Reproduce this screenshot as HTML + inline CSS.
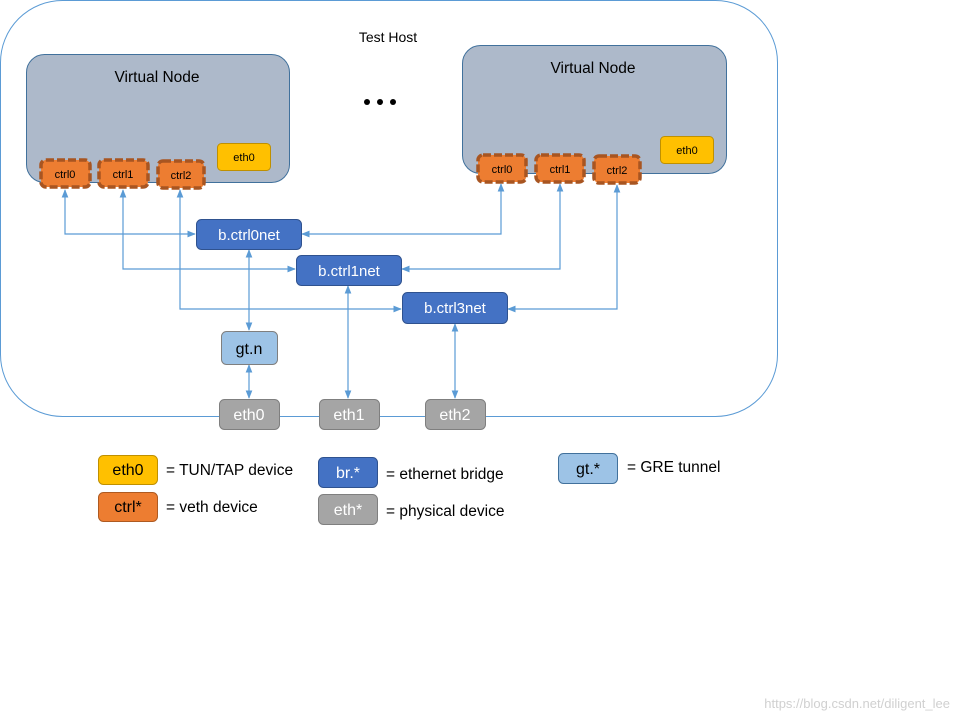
<!DOCTYPE html>
<html><head><meta charset="utf-8"><style>
html,body{margin:0;padding:0;background:#fff;width:960px;height:720px;overflow:hidden}
svg{display:block;font-family:"Liberation Sans",sans-serif}
</style></head><body>
<svg width="960" height="720" viewBox="0 0 960 720">
<defs>
<marker id="a" viewBox="0 0 10 10" refX="9" refY="5" markerWidth="7" markerHeight="7" orient="auto-start-reverse"><path d="M0,1 L10,5 L0,9 z" fill="#5b9bd5"/></marker>
</defs>
<rect x="0.5" y="0.5" width="777" height="416" rx="62" fill="#fff" stroke="#5b9bd5" stroke-width="1"/>
<text x="388" y="42" font-size="14" text-anchor="middle" fill="#000">Test Host</text>
<circle cx="367" cy="102" r="3"/><circle cx="380" cy="102" r="3"/><circle cx="393" cy="102" r="3"/>

<rect x="26.5" y="54.5" width="263" height="128" rx="18" fill="#adb9ca" stroke="#41719c"/>
<text x="157" y="82" font-size="15.5" text-anchor="middle">Virtual Node</text>
<rect x="462.5" y="45.5" width="264" height="128" rx="18" fill="#adb9ca" stroke="#41719c"/>
<text x="593" y="73" font-size="15.5" text-anchor="middle">Virtual Node</text>

<g fill="#ffc000" stroke="#bf9000"><rect x="217.5" y="143.5" width="53" height="27" rx="4"/><rect x="660.5" y="136.5" width="53" height="27" rx="4"/></g>
<g font-size="11" text-anchor="middle"><text x="244" y="161">eth0</text><text x="687" y="154">eth0</text></g>

<g fill="#ed7d31" stroke="#a85521" stroke-width="3.5" stroke-dasharray="8,3">
<rect x="41" y="160" width="49" height="27" rx="5"/><rect x="99" y="160" width="49" height="27" rx="5"/><rect x="158" y="161" width="46" height="27" rx="5"/>
<rect x="478" y="155" width="48" height="27" rx="5"/><rect x="536" y="155" width="48" height="27" rx="5"/><rect x="594" y="156" width="46" height="27" rx="5"/>
</g>
<g font-size="11" text-anchor="middle">
<text x="65" y="178">ctrl0</text><text x="123" y="178">ctrl1</text><text x="181" y="179">ctrl2</text>
<text x="502" y="173">ctrl0</text><text x="560" y="173">ctrl1</text><text x="617" y="174">ctrl2</text>
</g>

<g fill="none" stroke="#5b9bd5" stroke-width="1.2">
<path d="M65,190 V234 H195" marker-start="url(#a)" marker-end="url(#a)"/>
<path d="M501,184 V234 H302" marker-start="url(#a)" marker-end="url(#a)"/>
<path d="M123,190 V269 H295" marker-start="url(#a)" marker-end="url(#a)"/>
<path d="M560,184 V269 H402" marker-start="url(#a)" marker-end="url(#a)"/>
<path d="M180,190 V309 H401" marker-start="url(#a)" marker-end="url(#a)"/>
<path d="M617,185 V309 H508" marker-start="url(#a)" marker-end="url(#a)"/>
<path d="M249,250 V330" marker-start="url(#a)" marker-end="url(#a)"/>
<path d="M249,365 V398" marker-start="url(#a)" marker-end="url(#a)"/>
<path d="M348,286 V398" marker-start="url(#a)" marker-end="url(#a)"/>
<path d="M455,324 V398" marker-start="url(#a)" marker-end="url(#a)"/>
</g>

<g fill="#4472c4" stroke="#2f528f">
<rect x="196.5" y="219.5" width="105" height="30" rx="5"/>
<rect x="296.5" y="255.5" width="105" height="30" rx="5"/>
<rect x="402.5" y="292.5" width="105" height="31" rx="5"/>
</g>
<g font-size="15" text-anchor="middle" fill="#fff">
<text x="249" y="240">b.ctrl0net</text><text x="349" y="276">b.ctrl1net</text><text x="455" y="313">b.ctrl3net</text>
</g>
<rect x="221.5" y="331.5" width="56" height="33" rx="5" fill="#9dc3e6" stroke="#7f7f7f"/>
<text x="249" y="354" font-size="16" text-anchor="middle">gt.n</text>

<g fill="#a5a5a5" stroke="#7f7f7f">
<rect x="219.5" y="399.5" width="60" height="30" rx="5"/><rect x="319.5" y="399.5" width="60" height="30" rx="5"/><rect x="425.5" y="399.5" width="60" height="30" rx="5"/>
</g>
<g font-size="16" text-anchor="middle" fill="#fff">
<text x="249" y="420">eth0</text><text x="349" y="420">eth1</text><text x="455" y="420">eth2</text>
</g>

<rect x="98.5" y="455.5" width="59" height="29" rx="5" fill="#ffc000" stroke="#bf9000"/>
<text x="128" y="475" font-size="16" text-anchor="middle">eth0</text>
<rect x="98.5" y="492.5" width="59" height="29" rx="5" fill="#ed7d31" stroke="#ae5a21"/>
<text x="128" y="512" font-size="16" text-anchor="middle">ctrl*</text>
<rect x="318.5" y="457.5" width="59" height="30" rx="5" fill="#4472c4" stroke="#2f528f"/>
<text x="348" y="478" font-size="16" text-anchor="middle" fill="#fff">br.*</text>
<rect x="318.5" y="494.5" width="59" height="30" rx="5" fill="#a5a5a5" stroke="#7f7f7f"/>
<text x="348" y="515" font-size="16" text-anchor="middle" fill="#fff">eth*</text>
<rect x="558.5" y="453.5" width="59" height="30" rx="5" fill="#9dc3e6" stroke="#41719c"/>
<text x="588" y="474" font-size="16" text-anchor="middle">gt.*</text>
<g font-size="15.5">
<text x="166" y="475">= TUN/TAP device</text>
<text x="166" y="512">= veth device</text>
<text x="386" y="479">= ethernet bridge</text>
<text x="386" y="516">= physical device</text>
<text x="627" y="472">= GRE tunnel</text>
</g>
<text x="950" y="708" font-size="13" text-anchor="end" fill="#d0d0d0">https://blog.csdn.net/diligent_lee</text>
</svg>
</body></html>
